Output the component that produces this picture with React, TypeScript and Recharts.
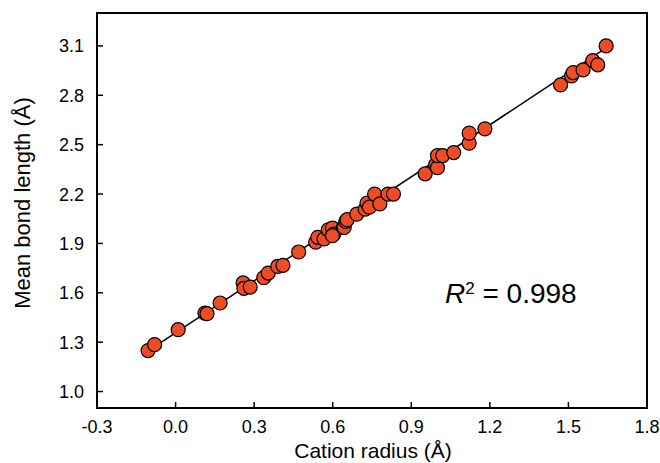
import { ReferenceArea, Scatter, ScatterChart, XAxis, YAxis } from "recharts";

// cation radius (Å) and mean bond length (Å)
const radius = [
  -0.105, -0.08, 0.01, 0.112, 0.12, 0.17, 0.258, 0.261, 0.285, 0.337, 0.354, 0.39, 0.41, 0.47, 0.535,
  0.543, 0.567, 0.583, 0.599, 0.604, 0.599, 0.64, 0.644, 0.65, 0.655, 0.692, 0.724, 0.731, 0.74, 0.76,
  0.78, 0.811, 0.832, 0.953, 0.993, 1.0, 1.0, 1.02, 1.062, 1.121, 1.121, 1.181, 1.47, 1.512, 1.518,
  1.556, 1.593, 1.612, 1.644,
];
const bondLength = [
  1.249, 1.285, 1.376, 1.477, 1.473, 1.538, 1.66, 1.627, 1.635, 1.692, 1.72, 1.76, 1.767, 1.848, 1.908,
  1.937, 1.927, 1.983, 1.993, 1.957, 1.947, 1.997, 1.997, 2.034, 2.044, 2.078, 2.108, 2.145, 2.12, 2.2,
  2.14, 2.2, 2.2, 2.323, 2.378, 2.36, 2.434, 2.434, 2.452, 2.509, 2.57, 2.596, 2.863, 2.918, 2.938,
  2.954, 3.011, 2.985, 3.1,
];

// fitted line end points
const fitX = [-0.09, 1.66];
const fitY = [1.262, 3.105];

const xTicks = [-0.3, 0.0, 0.3, 0.6, 0.9, 1.2, 1.5, 1.8];
const yTicks = [1.0, 1.3, 1.6, 1.9, 2.2, 2.5, 2.8, 3.1];

const points = radius.map((x, i) => ({ x, y: bondLength[i] }));
const fitLine = fitX.map((x, i) => ({ x, y: fitY[i] }));

const font = "'Liberation Sans', Arial, sans-serif";

const XTick = ({ x, y, payload }: any) => (
  <g>
    <line x1={x} x2={x} y1={y} y2={y - 6} stroke="#000" strokeWidth={1.5} />
    <text x={x} y={y + 25} textAnchor="middle" fontSize={18} fontFamily={font} fill="#000">
      {Number(payload.value).toFixed(1)}
    </text>
  </g>
);

const YTick = ({ x, y, payload }: any) => (
  <g>
    <line x1={x} x2={x + 6} y1={y} y2={y} stroke="#000" strokeWidth={1.5} />
    <text x={x - 13} y={y + 6.5} textAnchor="end" fontSize={18} fontFamily={font} fill="#000">
      {Number(payload.value).toFixed(1)}
    </text>
  </g>
);

const Dot = ({ cx, cy }: any) => <circle cx={cx} cy={cy} r={7} fill="#EF4B24" stroke="#000" strokeWidth={1.2} />;

export default function App() {
  return (
    <div style={{ position: "absolute", left: 0, top: 0, width: 660, height: 463, background: "#fff" }}>
      <ScatterChart width={660} height={463} margin={{ top: 13, right: 13, bottom: 0, left: 0 }}>
        <XAxis
          type="number"
          dataKey="x"
          domain={[-0.3, 1.8]}
          ticks={xTicks}
          interval={0}
          height={55}
          tickSize={0}
          tickMargin={0}
          tick={<XTick />}
          axisLine={{ stroke: "#000", strokeWidth: 2 }}
          label={{
            content: () => (
              <text x={373} y={458} textAnchor="middle" fontSize={21} fontFamily={font} fill="#000">
                Cation radius (Å)
              </text>
            ),
          }}
        />
        <YAxis
          type="number"
          dataKey="y"
          domain={[0.9, 3.3]}
          ticks={yTicks}
          interval={0}
          width={97}
          tickSize={0}
          tickMargin={0}
          tick={<YTick />}
          axisLine={{ stroke: "#000", strokeWidth: 2 }}
          label={{
            content: () => (
              <text
                transform="translate(30,203) rotate(-90)"
                textAnchor="middle"
                fontSize={22}
                fontFamily={font}
                fill="#000"
              >
                Mean bond length (Å)
              </text>
            ),
          }}
        />
        <ReferenceArea x1={-0.3} x2={1.8} y1={0.9} y2={3.3} fill="none" fillOpacity={0} stroke="#000" strokeWidth={2} />
        <Scatter data={fitLine} line={{ stroke: "#000", strokeWidth: 1.5 }} shape={() => <g />} isAnimationActive={false} />
        <Scatter data={points} shape={<Dot />} isAnimationActive={false} />
      </ScatterChart>
      <div
        style={{
          position: "absolute",
          left: 445,
          top: 279,
          fontSize: 28,
          lineHeight: "30px",
          fontFamily: font,
          color: "#000",
          whiteSpace: "nowrap",
        }}
      >
        <i>R</i>
        <span style={{ fontSize: 17, verticalAlign: "top", lineHeight: "20px" }}>2</span> = 0.998
      </div>
    </div>
  );
}
